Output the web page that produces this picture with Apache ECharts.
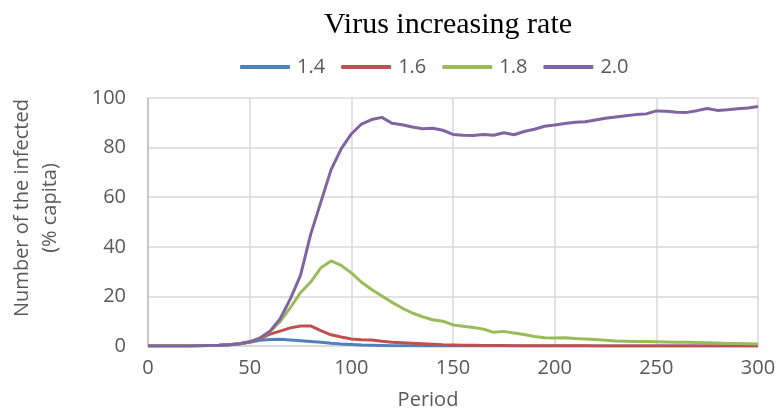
<!DOCTYPE html>
<html>
<head>
<meta charset="utf-8">
<script src="https://cdn.jsdelivr.net/npm/echarts@6/dist/echarts.min.js"></script>
<style>html,body{margin:0;padding:0;background:#fff;}#c{width:780px;height:413px;}</style>
</head>
<body>
<div id="c"></div>
<script>
var periods = [0,5,10,15,20,25,30,35,40,45,50,55,60,65,70,75,80,85,90,95,100,105,110,115,120,125,130,135,140,145,150,155,160,165,170,175,180,185,190,195,200,205,210,215,220,225,230,235,240,245,250,255,260,265,270,275,280,285,290,295,300];
var rate14 = [0,0,0,0,0,0.1,0.2,0.3,0.5,0.9,1.5,2.3,2.6,2.7,2.4,2.1,1.8,1.5,1.1,0.8,0.6,0.4,0.3,0.2,0.1,0.1,0.1,0,0,0,0,0,0,0,0,0,0,0,0,0,0,0,0,0,0,0,0,0,0,0,0,0,0,0,0,0,0,0,0,0,0];
var rate16 = [0,0,0,0,0,0.1,0.2,0.3,0.5,0.9,1.6,3.0,4.8,6.0,7.3,8.1,8.1,6.2,4.5,3.6,2.8,2.5,2.4,1.9,1.5,1.3,1.1,0.9,0.7,0.5,0.4,0.3,0.3,0.2,0.2,0.2,0.1,0.1,0.1,0.1,0.1,0.1,0.1,0.1,0,0,0,0,0,0,0,0,0,0,0,0,0,0,0,0,0];
var rate18 = [0,0,0,0,0,0.1,0.2,0.3,0.5,0.9,1.7,3.1,5.8,9.8,15.5,21.5,25.8,31.5,34.3,32.5,29.5,25.7,22.8,20.2,17.6,15.3,13.3,11.8,10.6,10.0,8.5,8.0,7.5,6.8,5.5,5.9,5.2,4.6,3.8,3.3,3.2,3.3,3.0,2.8,2.6,2.3,2.0,1.9,1.8,1.8,1.7,1.6,1.5,1.5,1.4,1.3,1.2,1.0,1.0,0.9,0.8];
var rate20 = [0,0,0,0,0,0.1,0.2,0.3,0.5,0.9,1.7,3.2,6.0,11.0,19.0,28.5,45.0,58.0,71.0,79.5,85.5,89.5,91.3,92.2,89.8,89.2,88.3,87.6,87.8,87.0,85.3,85.0,84.9,85.3,85.0,86.0,85.2,86.5,87.4,88.6,89.1,89.7,90.2,90.4,91.1,91.8,92.3,92.8,93.3,93.6,94.8,94.7,94.3,94.2,94.9,95.8,95.0,95.3,95.7,96.0,96.6];
var seriesNames = ['1.4','1.6','1.8','2.0'];
var seriesColors = ['#4F81BD','#C0504D','#9BBB59','#8064A2'];
var xTicks = [0,50,100,150,200,250,300];
var yTicks = [0,20,40,60,80,100];

function pairs(vals){ return periods.map(function(p,i){ return [p, vals[i]]; }); }
var allVals = [rate14, rate16, rate18, rate20];

var chart = echarts.init(document.getElementById('c'));
chart.setOption({
  animation: false,
  title: {
    text: 'Virus increasing rate',
    left: 443, top: 5, textAlign: 'center',
    textStyle: { fontFamily: 'Liberation Serif', fontSize: 30, fontWeight: 'normal', color: '#000' }
  },
  legend: {
    top: 52, left: 235,
    itemWidth: 50, itemHeight: 4, itemGap: 16,
    icon: 'roundRect',
    textStyle: { fontFamily: 'Open Sans', fontSize: 20, color: '#595959', padding: [0,0,0,2] },
    data: seriesNames
  },
  grid: { left: 148, right: 22, top: 98, bottom: 67, containLabel: false, outerBoundsMode: 'none' },
  xAxis: {
    type: 'value', min: xTicks[0], max: xTicks[xTicks.length-1], interval: 50,
    name: 'Period', nameLocation: 'middle', nameGap: 44,
    nameTextStyle: { fontFamily: 'Open Sans', fontSize: 20, color: '#595959', padding: [0,50,0,0] },
    axisLine: { show: true, lineStyle: { color: '#d9d9d9', width: 1.5 } },
    axisTick: { show: false },
    axisLabel: { fontFamily: 'Open Sans', fontSize: 20, color: '#595959', margin: 12 },
    splitLine: { show: true, lineStyle: { color: '#d9d9d9', width: 1.5 } }
  },
  yAxis: {
    type: 'value', min: yTicks[0], max: yTicks[yTicks.length-1], interval: 20,
    name: 'Number of the infected\n(% capita)', nameLocation: 'middle', nameGap: 84, nameRotate: 90,
    nameTextStyle: { fontFamily: 'Open Sans', fontSize: 20, color: '#595959', lineHeight: 28, padding: [0,0,0,28] },
    axisLine: { show: true, lineStyle: { color: '#bfbfbf', width: 1.5 } },
    axisTick: { show: false },
    axisLabel: { fontFamily: 'Open Sans', fontSize: 20, color: '#595959', margin: 22 },
    splitLine: { show: true, lineStyle: { color: '#d9d9d9', width: 1.5 } }
  },
  series: seriesNames.map(function(n, i){
    return {
      name: n, type: 'line', data: pairs(allVals[i]), symbol: 'none',
      color: seriesColors[i],
      lineStyle: { width: 3, color: seriesColors[i] },
      itemStyle: { color: seriesColors[i] }
    };
  })
});
</script>
</body>
</html>
